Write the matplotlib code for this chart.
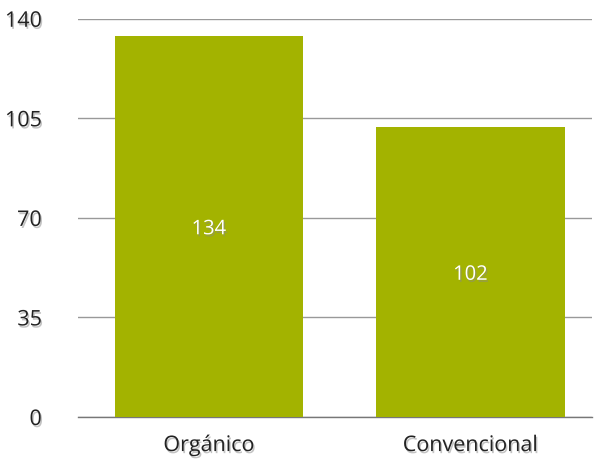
import matplotlib
matplotlib.use("Agg")
import matplotlib.pyplot as plt
import matplotlib.patheffects as pe

categories = ["Orgánico", "Convencional"]
values = [134, 102]
yticks = [0, 35, 70, 105, 140]

plt.rcParams['font.family'] = ['Open Sans', 'DejaVu Sans']

fig = plt.figure(figsize=(5.95, 4.6), dpi=100)
ax = fig.add_axes([0.131, 0.0913, 0.864, 0.8657])

shadow = [pe.withSimplePatchShadow(offset=(1, -1.5), shadow_rgbFace='#888888', alpha=0.5)]

x = list(range(len(categories)))
ax.bar(x, values, width=0.72, color='#a3b300', zorder=3)
for xi, v in zip(x, values):
    ax.text(xi, v / 2 - 1, str(v), ha='center', va='center', color='white',
            fontsize=14.5, zorder=4, path_effects=shadow)

ax.set_ylim(0, 140)
ax.set_xlim(-0.501, 1.465)
ax.set_yticks(yticks)
ax.set_yticklabels([str(t) for t in yticks], fontsize=15.5, color='#222222',
                   va='center_baseline')
ax.set_xticks(x)
ax.set_xticklabels(categories, fontsize=15.5, color='#222222')
for lbl in ax.get_xticklabels() + ax.get_yticklabels():
    lbl.set_path_effects(shadow)
ax.tick_params(axis='y', length=0, pad=26)
ax.tick_params(axis='x', length=0, pad=13)
ax.grid(axis='y', color='#999999', linewidth=1, zorder=0)
ax.grid(axis='x', visible=False)
for s in ['top', 'right', 'left']:
    ax.spines[s].set_visible(False)
ax.spines['bottom'].set_color('#777777')
ax.spines['bottom'].set_linewidth(1)

fig.savefig('out.png', dpi=100)
